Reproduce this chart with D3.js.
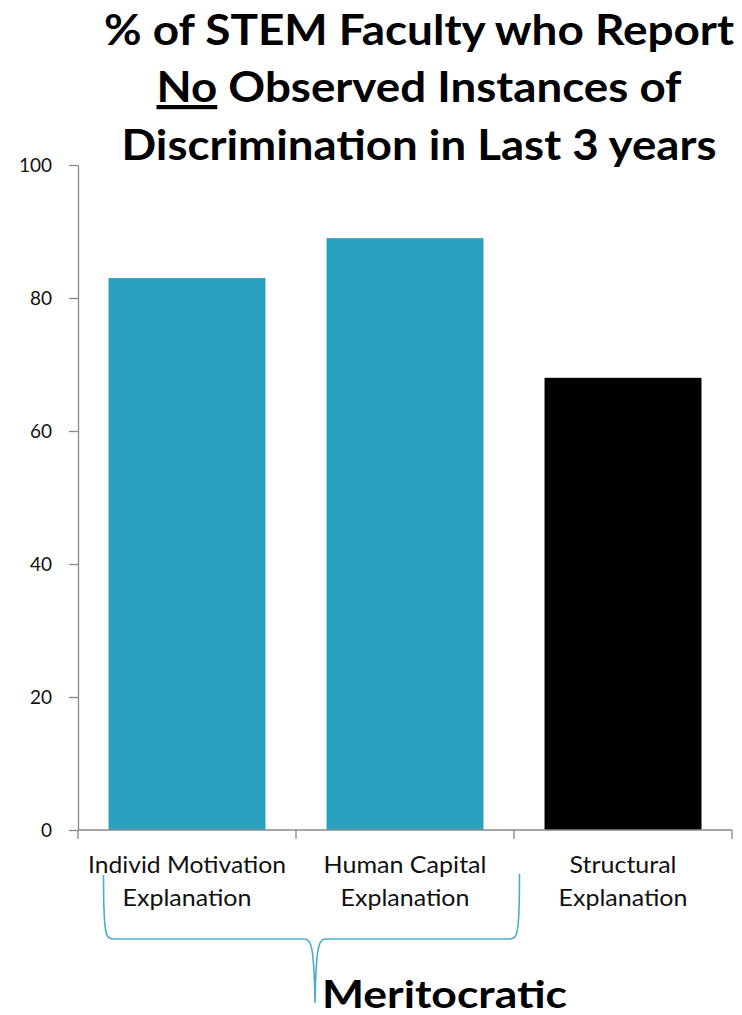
<!DOCTYPE html>
<html>
<head>
<meta charset="utf-8">
<script src="https://cdn.jsdelivr.net/npm/d3@7"></script>
<style>
  html, body { margin: 0; padding: 0; background: #fff; }
  svg { display: block; }
  text { font-family: Lato, "Open Sans", sans-serif; }
</style>
</head>
<body>
<svg id="chart" width="742" height="1015"></svg>
<script>
// Survey shares: faculty reporting no observed discrimination, by explanation type
const categories = ["Individ Motivation Explanation", "Human Capital Explanation", "Structural Explanation"];
const categoryLines = [["Individ Motivation", "Explanation"], ["Human Capital", "Explanation"], ["Structural", "Explanation"]];
const values = [83, 89, 68];
const barColors = ["#2ca1bf", "#2ca1bf", "#000000"];
const yTicks = [0, 20, 40, 60, 80, 100];
const titleLines = ["% of STEM Faculty who Report", "No Observed Instances of", "Discrimination in Last 3 years"];
const groupLabel = "Meritocratic";

const svg = d3.select("#chart");
const axisColor = "#888888";

const x = d3.scaleBand().domain(categories).range([78, 732]).paddingInner(0.28).paddingOuter(0.14);
const y = d3.scaleLinear().domain([0, 100]).range([830, 165]);

// Bars
svg.append("g").selectAll("rect")
  .data(categories)
  .join("rect")
  .attr("x", d => x(d))
  .attr("y", (d, i) => y(values[i]))
  .attr("width", x.bandwidth())
  .attr("height", (d, i) => y(0) - y(values[i]))
  .attr("fill", (d, i) => barColors[i]);

// Y axis
const yAxis = svg.append("g")
  .attr("transform", "translate(78,0)")
  .call(d3.axisLeft(y).tickValues(yTicks).tickSize(9).tickSizeOuter(0).tickPadding(17));
yAxis.select(".domain").attr("stroke", axisColor).attr("stroke-width", 1.3);
yAxis.selectAll(".tick line").attr("stroke", axisColor).attr("stroke-width", 1.3);
yAxis.selectAll(".tick text")
  .attr("fill", "#111")
  .attr("font-size", null)
  .attr("font-family", null)
  .style("font-size", "19px")
  .style("font-family", "Lato, sans-serif");
yAxis.attr("font-size", null).attr("font-family", null);

// X axis baseline with ticks at category boundaries
const xAxis = svg.append("g");
xAxis.append("line")
  .attr("x1", x.range()[0]).attr("x2", x.range()[1])
  .attr("y1", y(0)).attr("y2", y(0))
  .attr("stroke", axisColor).attr("stroke-width", 1.3);
const step = x.step();
const boundaries = d3.range(categories.length + 1).map(i => x.range()[0] + i * step);
xAxis.selectAll("line.bound")
  .data(boundaries)
  .join("line")
  .attr("class", "bound")
  .attr("x1", d => d).attr("x2", d => d)
  .attr("y1", y(0)).attr("y2", y(0) + 9)
  .attr("stroke", axisColor).attr("stroke-width", 1.3);

// Category labels (two lines each)
const labelWidths = [[198, 129], [163, 129], [107, 129]];
categories.forEach((c, i) => {
  const cx = x(c) + x.bandwidth() / 2;
  categoryLines[i].forEach((line, j) => {
    svg.append("text")
      .attr("x", cx)
      .attr("y", 873 + j * 33)
      .attr("text-anchor", "middle")
      .attr("fill", "#111")
      .style("font-size", "23px")
      .attr("textLength", labelWidths[i][j])
      .attr("lengthAdjust", "spacingAndGlyphs")
      .text(line);
  });
});

// Title
const titleWidths = [630, 525, 595];
const titleBaselines = [45, 102, 160];
titleLines.forEach((line, i) => {
  const t = svg.append("text")
    .attr("x", 419)
    .attr("y", titleBaselines[i])
    .attr("text-anchor", "middle")
    .attr("fill", "#000")
    .style("font-size", "42px")
    .style("font-weight", "bold")
    .attr("textLength", titleWidths[i])
    .attr("lengthAdjust", "spacingAndGlyphs");
  if (i === 1) {
    const words = line.split(" ");
    t.append("tspan").style("text-decoration", "underline").text(words[0]);
    t.append("tspan").text(" " + words.slice(1).join(" "));
  } else {
    t.text(line);
  }
});

// Curly brace grouping the first two categories
const bx0 = x(categories[0]) - 5;
const bx1 = x(categories[1]) + x.bandwidth() + 36;
const tipX = 315, topY = 874, midY = 939, tipY = 1003;
const brace = d3.path();
brace.moveTo(bx0, topY + 1);
brace.bezierCurveTo(bx0, midY - 4, bx0 + 2, midY, bx0 + 10, midY);
brace.lineTo(tipX - 10, midY);
brace.bezierCurveTo(tipX - 3, midY, tipX - 1, midY + 12, tipX, tipY);
brace.bezierCurveTo(tipX + 1, midY + 12, tipX + 3, midY, tipX + 10, midY);
brace.lineTo(bx1 - 10, midY);
brace.bezierCurveTo(bx1 - 2, midY, bx1, midY - 4, bx1, topY);
svg.append("path")
  .attr("d", brace.toString())
  .attr("fill", "none")
  .attr("stroke", "#4aaec8")
  .attr("stroke-width", 1.6);

svg.append("text")
  .attr("x", 444.5)
  .attr("y", 1008)
  .attr("text-anchor", "middle")
  .attr("fill", "#000")
  .style("font-size", "38px")
  .style("font-weight", "bold")
  .attr("textLength", 245)
  .attr("lengthAdjust", "spacingAndGlyphs")
  .text(groupLabel);
</script>
</body>
</html>
